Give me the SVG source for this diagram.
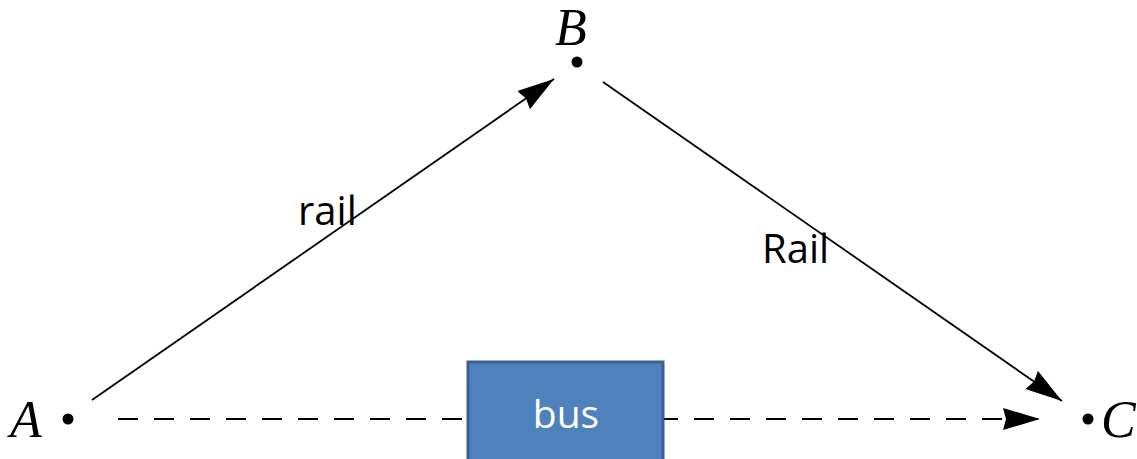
<svg xmlns="http://www.w3.org/2000/svg" width="1137" height="459" viewBox="0 0 1137 459">
<style>
.edge{stroke:#000;stroke-width:1.8;fill:none}
.dash{stroke-dasharray:20 16}
.dot{fill:#000}
.math{font-family:"Liberation Serif",serif;font-style:italic;font-size:52px;fill:#000}
.lbl{font-family:"Open Sans","Liberation Sans",sans-serif;font-size:40px;fill:#000}
.box{fill:#4F81BD;stroke:#3A6191;stroke-width:3}
.boxt{font-family:"Open Sans","Liberation Sans",sans-serif;font-size:39px;fill:#fff;text-anchor:middle}
</style>
<defs>
<marker id="ah" markerUnits="userSpaceOnUse" markerWidth="40" markerHeight="24" refX="37" refY="11" orient="auto">
<path d="M0,0 L37,11 L0,22 L3,11 z" fill="#000"/>
</marker>
</defs>
<g id="connectors">
<line class="edge" x1="92" y1="400" x2="554" y2="79" marker-end="url(#ah)"/>
<line class="edge" x1="603" y1="82" x2="1062" y2="401" marker-end="url(#ah)"/>
<line class="edge dash" x1="118" y1="419" x2="1040" y2="419" marker-end="url(#ah)"/>
<text class="lbl" x="298" y="225">rail</text>
<text class="lbl" x="762" y="263">Rail</text>
</g>
<g id="node-A">
<circle class="dot" cx="68" cy="419" r="5.5"/>
<text class="math" x="10" y="437">A</text>
</g>
<g id="node-B">
<circle class="dot" cx="577" cy="62" r="5.5"/>
<text class="math" x="555" y="45">B</text>
</g>
<g id="node-C">
<circle class="dot" cx="1088" cy="419" r="5.5"/>
<text class="math" x="1101" y="437">C</text>
</g>
<g id="node-bus">
<rect class="box" x="468" y="362" width="195" height="100"/>
<text class="boxt" x="566" y="428">bus</text>
</g>
</svg>
